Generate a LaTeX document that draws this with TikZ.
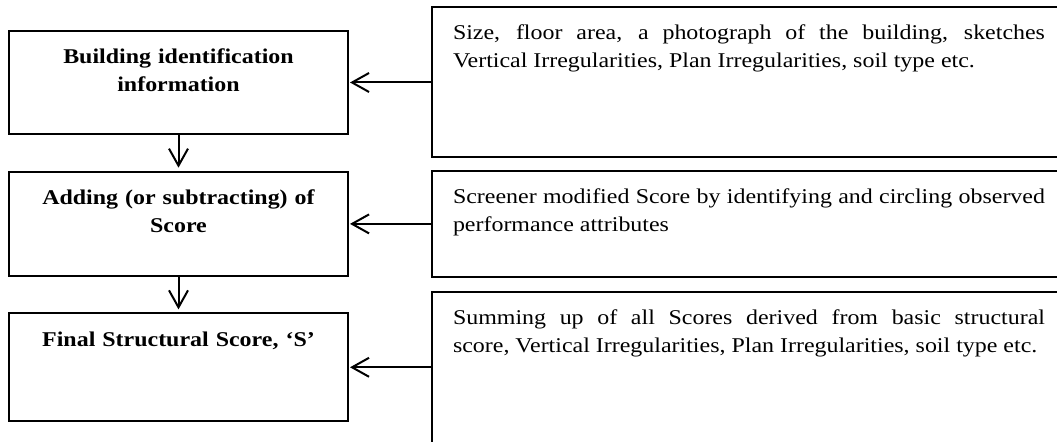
\documentclass[tikz,border=0pt]{standalone}
\usepackage{fontspec}
\setmainfont{Liberation Serif}[FakeStretch=1.14]
\usetikzlibrary{arrows.meta, positioning}

\begin{document}
\begin{tikzpicture}[
  mainbox/.style={draw, line width=1pt, outer sep=0pt, inner sep=0pt,
    text width=169.5pt, align=center, text height=16.5pt,
    font=\fontsize{10.5pt}{14pt}\selectfont\bfseries},
  notebox/.style={draw, line width=1pt, outer sep=0pt, inner ysep=0pt,
    inner xsep=10.5pt, text width=296pt, align=justify, text height=16.25pt,
    font=\fontsize{10.5pt}{14pt}\selectfont},
  edge/.style={-{Straight Barb[length=8.5pt, width=9.5pt]}, line width=1pt}
]
\useasboundingbox (0,0) rectangle (528.5pt,-221pt);
\clip (0,0) rectangle (528.5pt,-221pt);

% steps on the left
\node[mainbox, text depth=35.3pt, anchor=north west] (info) at (4.5pt,-15.35pt)
  {Building identification\\information};
\node[mainbox, text depth=35.7pt, below=18.7pt of info] (adjust)
  {Adding (or subtracting) of\\Score};
\node[mainbox, text depth=37.4pt, below=18.65pt of adjust] (final)
  {Final Structural Score, `S'};

% notes on the right
\node[notebox, text depth=58.75pt, right=42pt of info] (infonote)
  {Size, floor area, a photograph of the building, sketches\linebreak
   Vertical Irregularities, Plan Irregularities, soil type etc.};
\node[notebox, text depth=37.05pt, right=42pt of adjust] (adjustnote)
  {Screener modified Score by identifying and circling observed\linebreak
   performance attributes};
\node[notebox, text depth=60pt, right=42pt of final, yshift=-0.6pt] (finalnote)
  {Summing up of all Scores derived from basic structural\linebreak
   score, Vertical Irregularities, Plan Irregularities, soil type etc.};

\draw[edge, shorten >=2pt] (info) -- (adjust);
\draw[edge, shorten >=2pt] (adjust) -- (final);
\draw[edge, shorten >=1pt] (infonote.west) -- (infonote.west -| info.east);
\draw[edge, shorten >=1pt] (adjustnote.west) -- (adjustnote.west -| adjust.east);
\draw[edge, shorten >=1pt] (final.east -| finalnote.west) -- (final.east);
\end{tikzpicture}
\end{document}
